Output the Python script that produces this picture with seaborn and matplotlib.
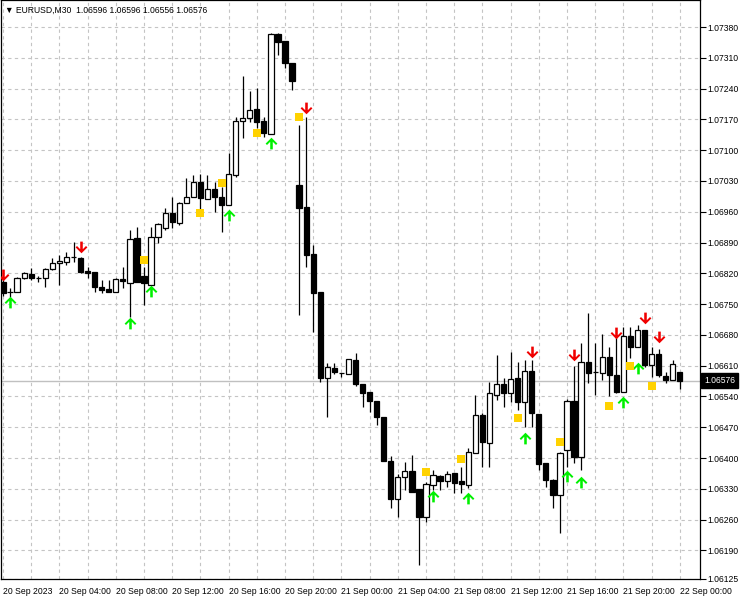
import numpy as np
import pandas as pd
import matplotlib
matplotlib.use("Agg")
import matplotlib.pyplot as plt
import matplotlib.transforms as mtrans
from matplotlib.path import Path
from matplotlib import font_manager as fm
import seaborn as sns

# ---------------- data ----------------
opens = [1.06800, 1.06777, 1.06778, 1.06809, 1.06818, 1.06809, 1.06809, 1.06830, 1.06843, 1.06846,
         1.06857, 1.06855, 1.06825, 1.06823, 1.06789, 1.06784, 1.06778, 1.06807, 1.06798, 1.06900,
         1.06814, 1.06793, 1.06903, 1.06923, 1.06957, 1.06934, 1.06980, 1.06994, 1.07028, 1.06989,
         1.07012, 1.06994, 1.06975, 1.07044, 1.07166, 1.07173, 1.07194, 1.07166, 1.07137, 1.07364,
         1.07348, 1.07298, 1.07021, 1.06971, 1.06864, 1.06778, 1.06582, 1.06605, 1.06593, 1.06591,
         1.06623, 1.06568, 1.06550, 1.06530, 1.06493, 1.06393, 1.06307, 1.06357, 1.06371, 1.06330,
         1.06266, 1.06339, 1.06359, 1.06348, 1.06366, 1.06348, 1.06339, 1.06411, 1.06498, 1.06434,
         1.06543, 1.06568, 1.06548, 1.06582, 1.06527, 1.06598, 1.06500, 1.06389, 1.06350, 1.06316,
         1.06418, 1.06530, 1.06402, 1.06618, 1.06596, 1.06593, 1.06630, 1.06589, 1.06550, 1.06677,
         1.06652, 1.06691, 1.06612, 1.06637, 1.06587, 1.06577, 1.06596]
highs = [1.06807, 1.06787, 1.06812, 1.06823, 1.06832, 1.06814, 1.06832, 1.06855, 1.06862, 1.06868,
         1.06891, 1.06857, 1.06834, 1.06823, 1.06805, 1.06805, 1.06809, 1.06834, 1.06919, 1.06925,
         1.06834, 1.06925, 1.06934, 1.06969, 1.06994, 1.06982, 1.07037, 1.07044, 1.07046, 1.07044,
         1.07028, 1.07016, 1.07094, 1.07175, 1.07269, 1.07235, 1.07241, 1.07175, 1.07366, 1.07366,
         1.07348, 1.07298, 1.07157, 1.07175, 1.06884, 1.06778, 1.06616, 1.06616, 1.06593, 1.06625,
         1.06639, 1.06568, 1.06550, 1.06530, 1.06493, 1.06405, 1.06364, 1.06391, 1.06407, 1.06330,
         1.06346, 1.06373, 1.06361, 1.06371, 1.06366, 1.06380, 1.06423, 1.06543, 1.06502, 1.06573,
         1.06634, 1.06582, 1.06641, 1.06618, 1.06623, 1.06623, 1.06500, 1.06389, 1.06352, 1.06414,
         1.06534, 1.06609, 1.06662, 1.06730, 1.06662, 1.06682, 1.06652, 1.06680, 1.06698, 1.06698,
         1.06702, 1.06691, 1.06652, 1.06648, 1.06596, 1.06623, 1.06596]
lows = [1.06768, 1.06766, 1.06778, 1.06807, 1.06805, 1.06800, 1.06789, 1.06828, 1.06793, 1.06839,
        1.06846, 1.06821, 1.06809, 1.06778, 1.06775, 1.06778, 1.06778, 1.06787, 1.06721, 1.06800,
        1.06748, 1.06793, 1.06889, 1.06919, 1.06923, 1.06930, 1.06980, 1.06994, 1.06964, 1.06989,
        1.06959, 1.06914, 1.06975, 1.07039, 1.07128, 1.07164, 1.07150, 1.07130, 1.07137, 1.07316,
        1.07287, 1.07237, 1.06725, 1.06834, 1.06687, 1.06573, 1.06493, 1.06591, 1.06584, 1.06591,
        1.06564, 1.06516, 1.06505, 1.06475, 1.06393, 1.06286, 1.06266, 1.06327, 1.06323, 1.06157,
        1.06255, 1.06327, 1.06327, 1.06334, 1.06321, 1.06321, 1.06332, 1.06411, 1.06380, 1.06380,
        1.06532, 1.06516, 1.06527, 1.06509, 1.06471, 1.06471, 1.06373, 1.06334, 1.06286, 1.06230,
        1.06380, 1.06389, 1.06373, 1.06571, 1.06543, 1.06577, 1.06541, 1.06548, 1.06550, 1.06627,
        1.06652, 1.06607, 1.06584, 1.06584, 1.06571, 1.06577, 1.06556]
closes = [1.06775, 1.06778, 1.06809, 1.06821, 1.06809, 1.06809, 1.06830, 1.06843, 1.06848, 1.06857,
          1.06857, 1.06823, 1.06821, 1.06789, 1.06782, 1.06778, 1.06807, 1.06803, 1.06898, 1.06800,
          1.06798, 1.06903, 1.06932, 1.06957, 1.06937, 1.06980, 1.06994, 1.07028, 1.06991, 1.07012,
          1.06994, 1.06975, 1.07046, 1.07166, 1.07173, 1.07191, 1.07164, 1.07139, 1.07364, 1.07346,
          1.07298, 1.07257, 1.06969, 1.06862, 1.06775, 1.06582, 1.06607, 1.06596, 1.06593, 1.06625,
          1.06568, 1.06548, 1.06530, 1.06493, 1.06393, 1.06307, 1.06357, 1.06371, 1.06323, 1.06266,
          1.06341, 1.06361, 1.06348, 1.06364, 1.06343, 1.06341, 1.06414, 1.06498, 1.06436, 1.06548,
          1.06568, 1.06548, 1.06580, 1.06527, 1.06598, 1.06502, 1.06386, 1.06350, 1.06316, 1.06411,
          1.06530, 1.06402, 1.06618, 1.06593, 1.06596, 1.06630, 1.06589, 1.06550, 1.06677, 1.06652,
          1.06691, 1.06612, 1.06637, 1.06589, 1.06577, 1.06614, 1.06576]

sell_idx = [0, 11, 43, 75, 81, 87, 91, 93]
sell_price = [1.06816, 1.06880, 1.07196, 1.06641, 1.06634, 1.06684, 1.06718, 1.06675]
buy_idx = [1, 18, 21, 32, 38, 61, 66, 74, 80, 82, 88, 90]
buy_price = [1.06755, 1.06707, 1.06780, 1.06953, 1.07116, 1.06314, 1.06309, 1.06446,
             1.06359, 1.06346, 1.06527, 1.06605]
level_idx = [20, 28, 31, 36, 42, 60, 65, 73, 79, 86, 89, 92]
level_price = [1.06850, 1.06957, 1.07025, 1.07139, 1.07175, 1.06368, 1.06398, 1.06491,
               1.06436, 1.06518, 1.06609, 1.06564]

time_labels = ["20 Sep 2023", "20 Sep 04:00", "20 Sep 08:00", "20 Sep 12:00", "20 Sep 16:00",
               "20 Sep 20:00", "21 Sep 00:00", "21 Sep 04:00", "21 Sep 08:00", "21 Sep 12:00",
               "21 Sep 16:00", "21 Sep 20:00", "22 Sep 00:00"]
price_ticks = [1.07380, 1.07310, 1.07240, 1.07170, 1.07100, 1.07030, 1.06960, 1.06890, 1.06820,
               1.06750, 1.06680, 1.06610, 1.06540, 1.06470, 1.06400, 1.06330, 1.06260, 1.06190,
               1.06125]
last_price = 1.06576
header = "\u25BC EURUSD,M30  1.06596 1.06596 1.06556 1.06576"

# ---------------- style ----------------
sns.set_style("white")
names = {f.name for f in fm.fontManager.ttflist}
if "Liberation Sans Narrow" in names:
    FAM = ["Liberation Sans Narrow", "DejaVu Sans"]
    FS = 7.3
else:
    FAM = ["Liberation Sans", "DejaVu Sans"]
    FS = 6.2
plt.rcParams['font.family'] = FAM

W, H = 741, 600
fig = plt.figure(figsize=(W / 100, H / 100), dpi=100)
fig.patch.set_facecolor("white")
ax = fig.add_axes([1 / W, (H - 579) / H, 699 / W, 579 / H])
ax.set_facecolor("white")

df = pd.DataFrame({"o": opens, "h": highs, "l": lows, "c": closes})
df["x"] = np.arange(len(df))
df["bull"] = df["c"] >= df["o"]
df["bot"] = df[["o", "c"]].min(axis=1)
df["hgt"] = (df["c"] - df["o"]).abs().clip(lower=1e-7)

# current price line
ax.axhline(last_price, color="#c0c0c0", lw=1.0, zorder=1)

# wicks
ax.vlines(df["x"], df["l"], df["h"], color="black", lw=0.9, zorder=2)
# bodies
ax.bar(df["x"], df["hgt"], bottom=df["bot"], width=0.74,
       color=np.where(df["bull"], "white", "black"), edgecolor="black",
       linewidth=0.9, zorder=3)

# markers
down = Path([(-0.12, 0.55), (0.12, 0.55), (0.12, -0.16), (0.42, 0.14), (0.55, 0.01),
             (0.0, -0.54), (-0.55, 0.01), (-0.42, 0.14), (-0.12, -0.16), (-0.12, 0.55)],
            [Path.MOVETO] + [Path.LINETO] * 8 + [Path.CLOSEPOLY])
up = Path([(vx, -vy) for vx, vy in down.vertices], down.codes)

sns.scatterplot(x=sell_idx, y=sell_price, marker=down, s=72, color="#f00000",
                linewidth=0, ax=ax, zorder=5, legend=False)
sns.scatterplot(x=buy_idx, y=buy_price, marker=up, s=72, color="#00f000",
                linewidth=0, ax=ax, zorder=5, legend=False)
sns.scatterplot(x=level_idx, y=level_price, marker="s", s=32, color="#FFD200",
                linewidth=0, ax=ax, zorder=5, legend=False)

# axes limits
x0 = -2 / 7.05
x1 = 697 / 7.05
ax.set_xlim(x0, x1)
ax.set_ylim(1.06125, 1.06125 + 579 / 43984)

# ticks
ax.set_xticks(np.arange(0, len(time_labels) * 8, 8))
ax.set_xticklabels(time_labels, ha="left", fontsize=FS)
ax.set_xticks(np.arange(4, 97, 8), minor=True)
ax.yaxis.tick_right()
ax.set_yticks(price_ticks)
ax.set_yticklabels([f"{v:.5f}" for v in price_ticks], fontsize=FS)
ax.tick_params(axis="x", which="major", direction="out", length=4, width=0.8,
               color="black", pad=2, labelcolor="black")
ax.tick_params(axis="y", which="major", direction="out", length=4, width=0.8,
               color="black", pad=1, labelcolor="black", right=True, left=False)
ax.tick_params(which="minor", length=0)

# grid
ax.grid(True, which="both", color="#c4c4c4", lw=0.8, linestyle=(0, (3, 3)))
ax.set_axisbelow(True)

for s in ax.spines.values():
    s.set_color("black")
    s.set_linewidth(0.9)
    s.set_visible(True)
ax.set_xlabel("")
ax.set_ylabel("")

# current price box
tr = mtrans.blended_transform_factory(ax.transAxes, ax.transData)
ax.text(1.0 + 4 / 699, last_price, f"{last_price:.5f}", transform=tr, ha="left", va="center",
        fontsize=FS, color="white", zorder=10, clip_on=False,
        bbox=dict(boxstyle="square,pad=0.35", facecolor="black", edgecolor="black"))

# header
fig.text(5 / W, 1 - 10 / H, header, fontsize=FS, color="black", ha="left", va="center")

fig.savefig("out.png", dpi=100, facecolor="white")
